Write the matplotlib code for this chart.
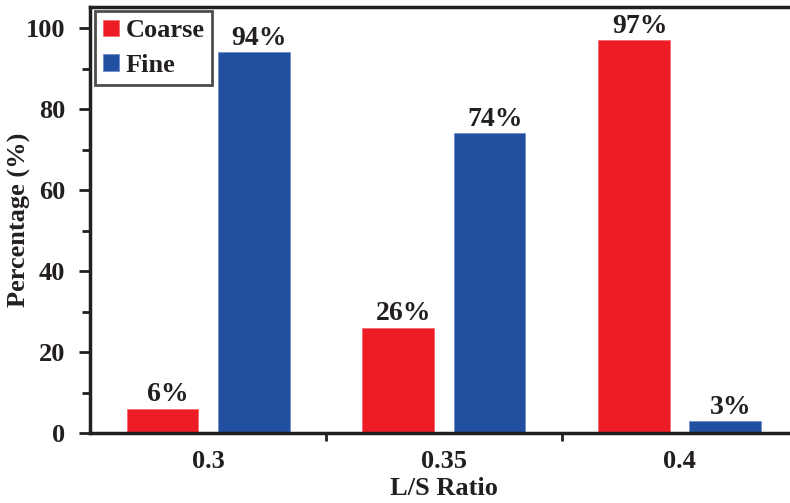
import numpy as np
import matplotlib.pyplot as plt
from matplotlib.ticker import MultipleLocator

ratios = ['0.3', '0.35', '0.4']
coarse = [6, 26, 97]
fine = [94, 74, 3]

plt.rcParams['font.family'] = 'Liberation Serif'
plt.rcParams['font.weight'] = 'bold'

fig = plt.figure(figsize=(7.9, 5.03), dpi=100)
ax = fig.add_axes([0.114, 0.139, 0.896, 0.847])

x = np.arange(len(ratios))
w = 0.305
off = 0.193
b1 = ax.bar(x - off, coarse, w, color='#ED1C24', edgecolor='#F46A6F', lw=0.6, label='Coarse')
b2 = ax.bar(x + off, fine, w, color='#2150A0', edgecolor='#6E8FC8', lw=0.6, label='Fine')

# value labels, nudged a little to the right of each bar centre
for bars, vals in [(b1, coarse), (b2, fine)]:
    for b, v in zip(bars, vals):
        ax.annotate(f'{v}%', (b.get_x() + b.get_width() / 2, v), xytext=(4, 1),
                    textcoords='offset points', ha='center', va='bottom',
                    fontsize=20, fontweight='bold', color='#231F20')

ax.set_xlim(-0.5, 2.5)
ax.set_ylim(0, 105.2)
ax.yaxis.set_major_locator(MultipleLocator(20))
ax.yaxis.set_minor_locator(MultipleLocator(10))
ax.set_xticks([0.5, 1.5])
ax.set_xticklabels([])
ax.xaxis.set_minor_locator(plt.FixedLocator(x))
ax.set_xticklabels(ratios, minor=True)
ax.tick_params(axis='x', which='minor', length=0, pad=12, labelsize=19, labelcolor='#231F20')
ax.tick_params(axis='x', which='major', length=6, width=2, direction='out', color='#231F20')
ax.tick_params(axis='y', which='major', length=8, width=2, pad=10, labelsize=19,
               color='#231F20', labelcolor='#231F20')
ax.tick_params(axis='y', which='minor', length=6, width=2, color='#231F20')

for s in ['left', 'bottom', 'top']:
    ax.spines[s].set_linewidth(2.5)
    ax.spines[s].set_color('#231F20')
ax.spines['right'].set_visible(False)

ax.set_ylabel('Percentage (%)', fontsize=19, fontweight='bold', color='#231F20')
ax.yaxis.set_label_coords(-0.083, 0.5)
ax.set_xlabel('L/S Ratio', fontsize=19, fontweight='bold', color='#231F20', labelpad=3)

leg = ax.legend(loc='upper left', bbox_to_anchor=(0.007, 0.99), fontsize=19, frameon=True,
                fancybox=False, edgecolor='#231F20', handlelength=0.6, handleheight=0.6,
                handletextpad=0.25, borderpad=0.3, labelspacing=0.45, borderaxespad=0)
leg.get_frame().set_linewidth(2)
for t in leg.get_texts():
    t.set_color('#231F20')

fig.savefig('out.png', dpi=100)
